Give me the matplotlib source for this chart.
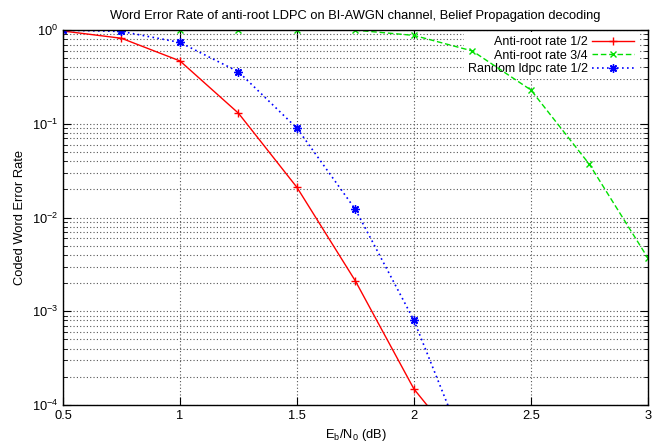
import matplotlib.pyplot as plt
import matplotlib.ticker as mticker

plt.rcParams['font.family'] = ['Liberation Sans', 'DejaVu Sans']
plt.rcParams['mathtext.default'] = 'regular'
plt.rcParams['font.size'] = 9.3

# ========== Data ==========
ebn0 = [0.5, 0.75, 1.0, 1.25, 1.5, 1.75, 2.0, 2.25, 2.5, 2.75, 3.0]

wer_antiroot_12 = [0.98, 0.82, 0.47, 0.13, 0.021, 0.0021, 1.48e-4, 2.5e-5]
wer_antiroot_34 = [1.0, 1.0, 1.0, 1.0, 1.0, 1.0, 0.88, 0.60, 0.23, 0.037, 0.0037]
wer_random_12 = [1.0, 0.97, 0.74, 0.36, 0.090, 0.0122, 8.0e-4, 2.2e-5]

labels = ["Anti-root rate 1/2", "Anti-root rate 3/4", "Random ldpc rate 1/2"]

# ========== Plot ==========
fig = plt.figure(figsize=(6.7, 4.44), dpi=100)
ax = fig.add_axes([0.094, 0.088, 0.873, 0.844])

ax.semilogy(ebn0[:len(wer_antiroot_12)], wer_antiroot_12, color='#ff0000',
            linestyle='-', linewidth=1, marker='+', markersize=5.5, label=labels[0])
ax.semilogy(ebn0[:len(wer_antiroot_34)], wer_antiroot_34, color='#00e000',
            linestyle=(0, (4, 2)), linewidth=1, marker='x', markersize=5, label=labels[1])
ax.semilogy(ebn0[:len(wer_random_12)], wer_random_12, color='#0000ff',
            linestyle=(0, (1, 2)), linewidth=1.2, marker=(8, 2, 0), markersize=6, label=labels[2])

ax.set_xlim(0.5, 3)
ax.set_ylim(1e-4, 1)
ax.set_xticks([0.5, 1, 1.5, 2, 2.5, 3])
ax.xaxis.set_major_formatter(mticker.FuncFormatter(lambda v, p: f"{v:g}"))
ax.yaxis.set_minor_locator(mticker.LogLocator(base=10, subs=range(2, 10)))
ax.yaxis.set_minor_formatter(mticker.NullFormatter())

ax.grid(True, which='major', axis='both', linestyle=(0, (1, 2)), color='#555555', linewidth=0.8)
ax.grid(True, which='minor', axis='y', linestyle=(0, (1, 2)), color='#555555', linewidth=0.8)
ax.set_axisbelow(True)

ax.tick_params(which='both', direction='in', top=True, right=True)
ax.tick_params(which='major', length=6)
ax.tick_params(which='minor', length=3)
for s in ax.spines.values():
    s.set_linewidth(1)

ax.set_title("Word Error Rate of anti-root LDPC on BI-AWGN channel, Belief Propagation decoding",
             fontsize=9.3, pad=8)
ax.set_xlabel(r"E$_b$/N$_0$ (dB)")
ax.set_ylabel("Coded Word Error Rate")

# key drawn above the grid but below the curves, like gnuplot
leg = ax.legend(loc='upper right', markerfirst=False, frameon=True, fancybox=False,
                edgecolor='none', facecolor='white', framealpha=1, fontsize=9,
                handlelength=3.3, handletextpad=0.35, borderaxespad=0,
                labelspacing=0.1, borderpad=0.35, bbox_to_anchor=(0.983, 0.995))
leg.get_frame().set_linewidth(0)
leg.set_zorder(1)

fig.savefig("out.png", dpi=100)
